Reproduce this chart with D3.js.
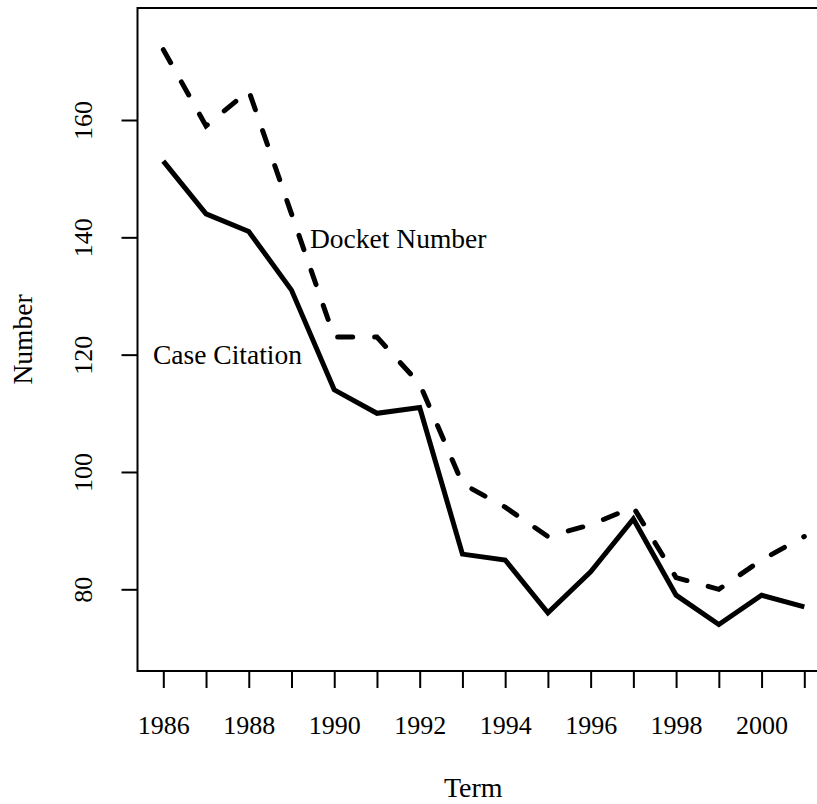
<!DOCTYPE html>
<html>
<head>
<meta charset="utf-8">
<script src="https://cdn.jsdelivr.net/npm/d3@7"></script>
<style>
  body { margin: 0; background: #fff; }
  svg { display: block; }
  text { font-family: "Liberation Serif", "Times New Roman", serif; fill: #000; }
</style>
</head>
<body>
<div id="chart"></div>
<script>
var years = [1986, 1987, 1988, 1989, 1990, 1991, 1992, 1993, 1994, 1995, 1996, 1997, 1998, 1999, 2000, 2001];
var caseCitation = [153, 144, 141, 131, 114, 110, 111, 86, 85, 76, 83, 92, 79, 74, 79, 77];
var docketNumber = [172, 159, 165, 144, 123, 123, 115, 98, 94, 89, 91, 94, 82, 80, 85, 89];
var yTicks = [80, 100, 120, 140, 160];
var xLabels = [1986, 1988, 1990, 1992, 1994, 1996, 1998, 2000];

var width = 817, height = 804;
var boxLeft = 137.5, boxTop = 8, boxBottom = 671, boxRight = 817;

var svg = d3.select("#chart").append("svg")
    .attr("width", width)
    .attr("height", height);

var x = d3.scaleLinear().domain([1986, 2001]).range([163.3, 804.3]);
var y = d3.scaleLinear().domain([80, 160]).range([589.3, 120]);

// box (no right side, it is cut off in the original)
svg.append("path")
    .attr("d", "M" + boxRight + "," + boxTop + "H" + boxLeft + "V" + boxBottom + "H" + boxRight)
    .attr("fill", "none")
    .attr("stroke", "#000")
    .attr("stroke-width", 2);

// y axis
var yAxis = svg.append("g")
    .attr("transform", "translate(" + boxLeft + ",0)")
    .call(d3.axisLeft(y).tickValues(yTicks).tickSize(16));
yAxis.select(".domain").remove();
yAxis.selectAll("line").attr("stroke-width", 2);
yAxis.selectAll("text")
    .attr("x", null).attr("dy", null)
    .attr("transform", "translate(-46,0) rotate(-90)")
    .attr("text-anchor", "middle")
    .style("font-family", "Liberation Serif")
    .style("font-size", "26px");

// x axis
var xAxis = svg.append("g")
    .attr("transform", "translate(0," + boxBottom + ")")
    .call(d3.axisBottom(x).tickValues(years).tickSize(17)
        .tickFormat(function(d){ return xLabels.indexOf(d) >= 0 ? d : ""; }));
xAxis.select(".domain").remove();
xAxis.selectAll("line").attr("stroke-width", 2);
xAxis.selectAll("text")
    .attr("y", 63).attr("dy", null)
    .style("font-family", "Liberation Serif")
    .style("font-size", "26px");

// axis titles
svg.append("text")
    .attr("x", (boxLeft + boxRight) / 2 - 4)
    .attr("y", 797)
    .attr("text-anchor", "middle")
    .style("font-size", "28px")
    .text("Term");

svg.append("text")
    .attr("transform", "translate(32," + (boxTop + boxBottom) / 2 + ") rotate(-90)")
    .attr("text-anchor", "middle")
    .style("font-size", "27.5px")
    .text("Number");

// lines
var line = function(values){
    return d3.line()
        .x(function(d, i){ return x(years[i]); })
        .y(function(d){ return y(d); })(values);
};

svg.append("path")
    .attr("d", line(docketNumber))
    .attr("fill", "none")
    .attr("stroke", "#000")
    .attr("stroke-width", 5)
    .attr("stroke-linecap", "round")
    .attr("stroke-dasharray", "15,22");

svg.append("path")
    .attr("d", line(caseCitation))
    .attr("fill", "none")
    .attr("stroke", "#000")
    .attr("stroke-width", 5)
    .attr("stroke-linejoin", "miter");

// series labels
svg.append("text")
    .attr("x", 310)
    .attr("y", 248)
    .style("font-size", "27.5px")
    .text("Docket Number");

svg.append("text")
    .attr("x", 153)
    .attr("y", 364)
    .style("font-size", "27.5px")
    .text("Case Citation");
</script>
</body>
</html>
